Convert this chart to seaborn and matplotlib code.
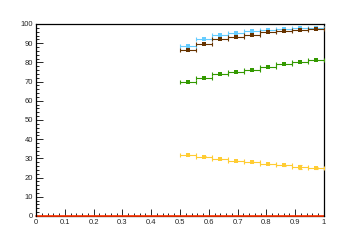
import matplotlib
matplotlib.use("Agg")
import matplotlib.pyplot as plt
import seaborn as sns
import numpy as np
import pandas as pd
from matplotlib.ticker import MultipleLocator

# ---- data ----
bin_edges = [0.5, 0.5556, 0.6111, 0.6667, 0.7222, 0.7778, 0.8333, 0.8889, 0.9444, 1.0]
lightblue_vals = [88.6, 92.1, 94.1, 95.3, 96.2, 97.0, 97.4, 97.9, 97.9]
brown_vals = [86.7, 89.4, 92.0, 93.0, 94.4, 95.6, 96.3, 96.9, 97.2]
green_vals = [69.6, 71.9, 73.8, 75.2, 76.3, 77.8, 79.1, 80.1, 81.2]
yellow_vals = [31.8, 30.9, 29.7, 28.6, 28.1, 27.1, 26.5, 25.5, 25.0]
yellow_err = [0.2, 0.2, 0.2, 0.2, 0.2, 0.2, 0.3, 1.0, 0.3]
red_x = [0.0, 1.0]
red_vals = [0.0, 0.0]
x_ticks = [0, 0.1, 0.2, 0.3, 0.4, 0.5, 0.6, 0.7, 0.8, 0.9, 1]
x_ticklabels = ["0", "0.1", "0.2", "0.3", "0.4", "0.5", "0.6", "0.7", "0.8", "0.9", "1"]
y_ticks = [0, 10, 20, 30, 40, 50, 60, 70, 80, 90, 100]

sns.set_style("ticks")
plt.rcParams['font.family'] = ['Liberation Sans', 'DejaVu Sans']

fig = plt.figure(figsize=(3.6, 2.4), dpi=100)
ax = fig.add_axes([0.1, 0.1, 0.8, 0.8])

edges = np.array(bin_edges)
centers = (edges[:-1] + edges[1:]) / 2
halfw = (edges[1:] - edges[:-1]) / 2

series = [
    (lightblue_vals, "#66ccff", None),
    (brown_vals, "#663300", None),
    (green_vals, "#339900", None),
    (yellow_vals, "#ffcc33", yellow_err),
]
lw = 0.8
for vals, col, err in series:
    ax.errorbar(centers, vals, xerr=halfw, yerr=err, fmt='none', ecolor=col,
                elinewidth=lw, capsize=1.6, capthick=lw, zorder=3)
    df = pd.DataFrame({"x": centers, "y": vals})
    sns.scatterplot(data=df, x="x", y="y", ax=ax, marker='s', s=7, color=col,
                    edgecolor=col, linewidth=0, zorder=4)

df_red = pd.DataFrame({"x": red_x, "y": red_vals})
sns.lineplot(data=df_red, x="x", y="y", ax=ax, color="#ff3300", linewidth=1.2,
             zorder=2, clip_on=False)

ax.set_xlim(0, 1)
ax.set_ylim(0, 100)
ax.set_xticks(x_ticks)
ax.set_xticklabels(x_ticklabels)
ax.set_yticks(y_ticks)
ax.xaxis.set_minor_locator(MultipleLocator(0.02))
ax.yaxis.set_minor_locator(MultipleLocator(2))
ax.tick_params(which='major', direction='in', length=5, width=0.7, labelsize=5.5,
               top=False, right=False, pad=2)
ax.tick_params(which='minor', direction='in', length=2.5, width=0.7, top=False, right=False)
for s in ax.spines.values():
    s.set_visible(True)
    s.set_linewidth(0.9)
    s.set_color("black")
ax.spines['bottom'].set_zorder(1)
ax.set_xlabel("")
ax.set_ylabel("")

fig.savefig("out.png", dpi=100)
